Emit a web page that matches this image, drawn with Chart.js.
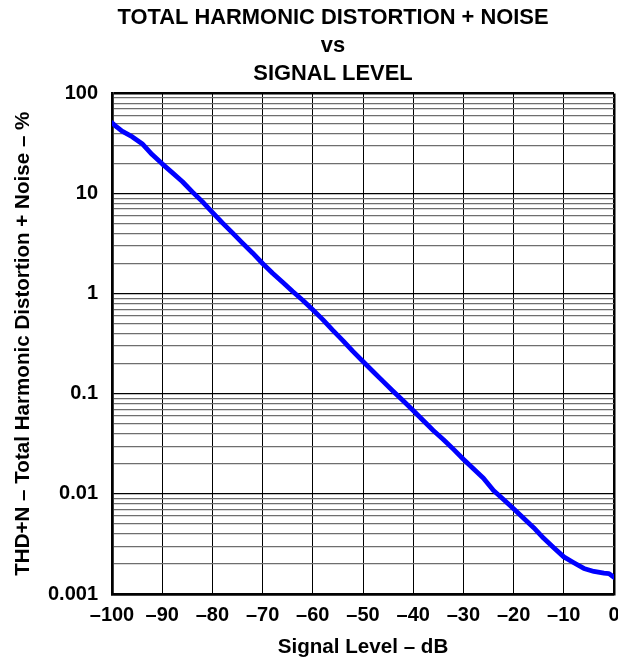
<!DOCTYPE html>
<html>
<head>
<meta charset="utf-8">
<script src="https://cdn.jsdelivr.net/npm/chart.js@4.4.1/dist/chart.umd.min.js"></script>
<style>
  html, body { margin: 0; padding: 0; background: #fff; }
  #wrap { width: 618px; height: 660px; }
</style>
</head>
<body>
<div id="wrap"><canvas id="c" width="618" height="660"></canvas></div>
<script>
// ---- Data ----
const signalLevelDb = [-100, -99, -98, -96, -94, -92, -90, -88, -86, -84, -82, -80, -78, -76, -74, -72, -70,
  -68, -66, -64, -62, -60, -58, -56, -54, -52, -50, -48, -46, -44, -42, -40, -38, -36, -34, -32, -30,
  -28, -26, -24, -22, -20, -18, -16, -14, -12, -10, -8, -6, -4, -2, -1, 0];
const thdnPercent = [51, 46, 42, 37, 31.5, 24.5, 19.8, 16.2, 13.2, 10.4, 8.3, 6.5, 5.1, 4.05, 3.2, 2.55, 2.0,
  1.6, 1.3, 1.05, 0.86, 0.69, 0.55, 0.43, 0.34, 0.265, 0.21, 0.167, 0.133, 0.106, 0.085, 0.068, 0.054, 0.043, 0.035, 0.028, 0.0222,
  0.0178, 0.0143, 0.0108, 0.0088, 0.0071, 0.0057, 0.0046, 0.0036, 0.0029, 0.00235, 0.00205, 0.0018, 0.00168, 0.00162, 0.0016, 0.00147];

const xTickValues = [-100, -90, -80, -70, -60, -50, -40, -30, -20, -10, 0];
const xTickLabels = ['\u2013100', '\u201390', '\u201380', '\u201370', '\u201360', '\u201350', '\u201340', '\u201330', '\u201320', '\u201310', '0'];
const yDecades = [0.001, 0.01, 0.1, 1, 10, 100];
const yDecadeLabels = ['0.001', '0.01', '0.1', '1', '10', '100'];
const yMinorMultipliers = [2, 3, 4, 5, 6, 7, 8, 9];

const titleLines = ['TOTAL HARMONIC DISTORTION + NOISE', 'vs', 'SIGNAL LEVEL'];
const xAxisTitle = 'Signal Level \u2013 dB';
const yAxisTitle = 'THD+N \u2013 Total Harmonic Distortion + Noise \u2013 %';

// ---- Chart ----
const FONT = '"Liberation Sans", Arial, Helvetica, sans-serif';
Chart.defaults.font.family = FONT;
Chart.defaults.font.weight = 'bold';
Chart.defaults.font.size = 20;
Chart.defaults.color = '#000';

const points = signalLevelDb.map((x, i) => ({ x: x, y: thdnPercent[i] }));

function isDecade(v) {
  return yDecades.some(d => Math.abs(v - d) / d < 1e-6);
}
function decadeLabel(v) {
  for (let i = 0; i < yDecades.length; i++) {
    if (Math.abs(v - yDecades[i]) / yDecades[i] < 1e-6) return yDecadeLabels[i];
  }
  return '';
}

// Shift the title block so its centre sits where the reference title is centred.
const titleShift = {
  id: 'titleShift',
  afterLayout(chart) {
    if (chart.titleBlock) {
      chart.titleBlock.left = 48;
      chart.titleBlock.right = 618;
    }
  }
};

new Chart(document.getElementById('c'), {
  type: 'line',
  data: {
    datasets: [{
      data: points,
      borderColor: '#0000ff',
      borderWidth: 4.8,
      pointRadius: 0,
      tension: 0,
      fill: false,
      borderCapStyle: 'round',
      borderJoinStyle: 'round'
    }]
  },
  plugins: [titleShift],
  options: {
    responsive: false,
    animation: false,
    devicePixelRatio: 1,
    layout: { padding: { left: 0, right: 4, top: 0, bottom: 0 } },
    plugins: {
      legend: { display: false },
      tooltip: { enabled: false },
      title: {
        display: true,
        text: titleLines,
        font: { size: 21.9, weight: 'bold', lineHeight: 1.27 },
        color: '#000',
        padding: { top: 4, bottom: 6 }
      }
    },
    scales: {
      x: {
        type: 'linear',
        min: -100,
        max: 0,
        afterBuildTicks: (scale) => { scale.ticks = xTickValues.map(v => ({ value: v })); },
        afterFit: (scale) => { scale.height = 66; scale.paddingLeft = 0; scale.paddingRight = 0; },
        ticks: {
          autoSkip: false,
          maxRotation: 0,
          padding: 9,
          font: { size: 20, weight: 'bold' },
          color: '#000',
          callback: (value) => {
            const i = xTickValues.indexOf(value);
            return i >= 0 ? xTickLabels[i] : '';
          }
        },
        grid: {
          drawTicks: false,
          color: '#000',
          lineWidth: (ctx) => (ctx.tick && (ctx.tick.value === 0 || ctx.tick.value === -100)) ? 2.5 : 1
        },
        border: { display: true, color: '#000', width: 2.5 },
        title: {
          display: true,
          text: xAxisTitle,
          font: { size: 20.6, weight: 'bold', lineHeight: 1.2 },
          color: '#000',
          padding: { top: 0, bottom: 0 }
        }
      },
      y: {
        type: 'logarithmic',
        min: 0.001,
        max: 100,
        afterBuildTicks: (scale) => {
          const t = [];
          yDecades.forEach((d, i) => {
            t.push({ value: d, major: true });
            if (i < yDecades.length - 1) {
              yMinorMultipliers.forEach(m => t.push({ value: d * m, major: false }));
            }
          });
          scale.ticks = t;
        },
        afterFit: (scale) => { scale.width = 112; scale.paddingTop = 0; scale.paddingBottom = 0; },
        ticks: {
          autoSkip: false,
          padding: 14,
          font: { size: 20, weight: 'bold' },
          color: '#000',
          callback: (value) => decadeLabel(value)
        },
        grid: {
          drawTicks: false,
          color: (ctx) => (ctx.tick && isDecade(ctx.tick.value)) ? '#000' : '#6e6e6e',
          lineWidth: (ctx) => {
            if (!ctx.tick) return 1;
            const v = ctx.tick.value;
            if (Math.abs(v - 100) < 1e-6 || Math.abs(v - 0.001) < 1e-9) return 2.5;
            return 1.2;
          }
        },
        border: { display: true, color: '#000', width: 2.5 },
        title: {
          display: true,
          text: yAxisTitle,
          font: { size: 20.6, weight: 'bold', lineHeight: 1.2 },
          color: '#000',
          padding: { top: 11, bottom: 0 }
        }
      }
    }
  }
});
</script>
</body>
</html>
